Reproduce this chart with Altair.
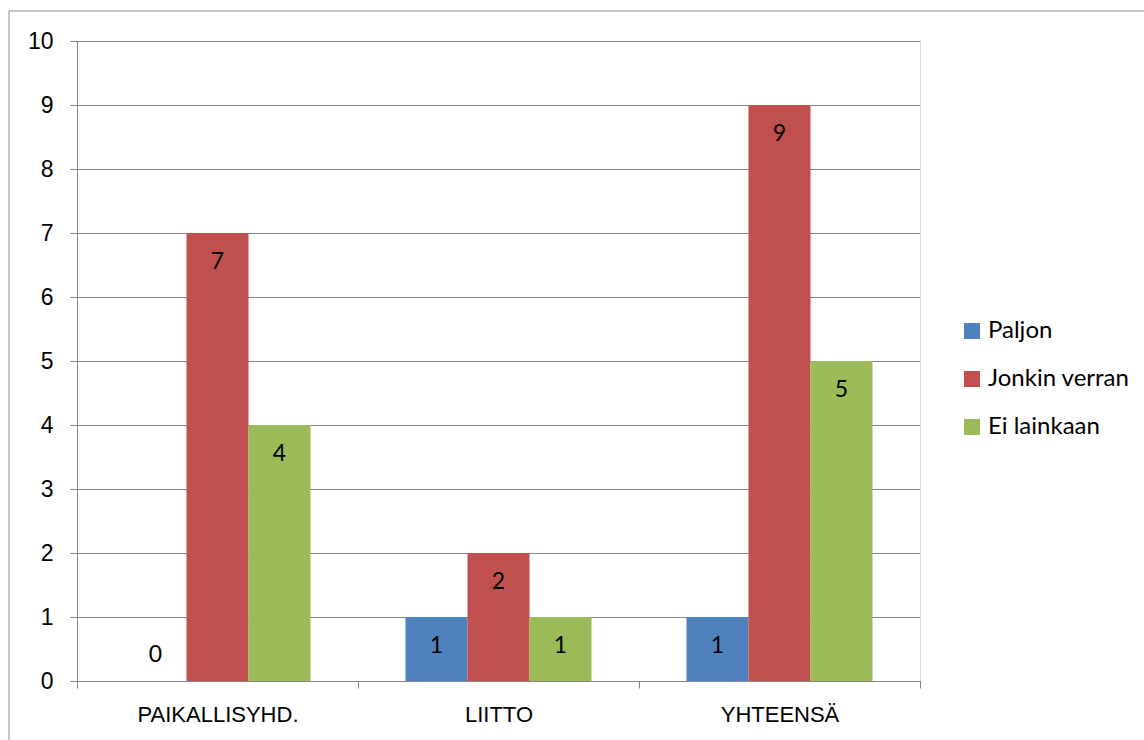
import altair as alt
import pandas as pd

# Survey answers per group
categories = ["PAIKALLISYHD.", "LIITTO", "YHTEENSÄ"]
series = ["Paljon", "Jonkin verran", "Ei lainkaan"]
paljon = [0, 1, 1]
jonkin_verran = [7, 2, 9]
ei_lainkaan = [4, 1, 5]
colors = ["#4F81BD", "#C0504D", "#9BBB59"]
y_ticks = list(range(0, 11))

rows = []
for name, vals in zip(series, [paljon, jonkin_verran, ei_lainkaan]):
    for cat, v in zip(categories, vals):
        rows.append({"ryhma": cat, "sarja": name, "arvo": v})
df = pd.DataFrame(rows)

FONT = "Lato"
FS = 22
FS_NUM = 23
FS_LEG = 24
GRID = "#868686"

x_enc = alt.X(
    "ryhma:N",
    sort=categories,
    scale=alt.Scale(paddingInner=0, paddingOuter=0),
    axis=alt.Axis(
        title=None,
        labelAngle=0,
        labelFontSize=FS,
        labelColor="#000000",
        labelPadding=16,
        domainColor=GRID,
        tickColor=GRID,
        tickSize=7,
        tickBand="extent",
        grid=False,
    ),
)
xoff_enc = alt.XOffset(
    "sarja:N",
    sort=series,
    scale=alt.Scale(paddingInner=0, paddingOuter=0.766),
)
y_enc = alt.Y(
    "arvo:Q",
    scale=alt.Scale(domain=[0, 10], nice=False),
    axis=alt.Axis(
        title=None,
        values=y_ticks,
        labelFontSize=FS_NUM,
        labelColor="#000000",
        labelPadding=17,
        domainColor=GRID,
        tickColor=GRID,
        tickSize=7,
        gridColor=GRID,
        gridWidth=1,
    ),
)

base = alt.Chart(df)

# thin frame around the whole chart
frame = alt.Chart(pd.DataFrame({"k": [0]})).mark_rect(
    fill="transparent", stroke="#8C8C8C", strokeWidth=1
).encode(
    x=alt.value(-68), x2=alt.value(1075), y=alt.value(-30), y2=alt.value(705)
)

bars = base.mark_bar(size=62).encode(
    x=x_enc,
    xOffset=xoff_enc,
    y=y_enc,
    color=alt.Color(
        "sarja:N",
        sort=series,
        scale=alt.Scale(domain=series, range=colors),
        legend=alt.Legend(
            title=None,
            orient="none",
            legendX=883,
            legendY=278,
            symbolType="square",
            symbolSize=256,
            symbolStrokeWidth=0,
            symbolOpacity=1,
            labelFontSize=FS_LEG,
            labelColor="#000000",
            labelFont=FONT,
            rowPadding=24,
            labelOffset=4,
        ),
    ),
)

labels_in = base.transform_filter("datum.arvo > 0").mark_text(
    baseline="middle", dy=29, fontSize=FS_NUM, font=FONT, color="#000000"
).encode(x=x_enc, xOffset=xoff_enc, y=y_enc, text="arvo:Q")

labels_zero = base.transform_filter("datum.arvo == 0").mark_text(
    baseline="middle", dy=-26, fontSize=FS_NUM, font=FONT, color="#000000"
).encode(x=x_enc, xOffset=xoff_enc, y=y_enc, text="arvo:Q")

chart = (
    alt.layer(frame, bars, labels_in, labels_zero)
    .properties(
        width=843,
        height=640,
        autosize=alt.AutoSizeParams(type="none"),
        padding={"left": 77, "top": 41, "right": 224, "bottom": 59},
    )
    .configure_view(stroke=None)
    .configure_axis(labelFont=FONT)
    .configure(background="#FFFFFF")
)

chart.save("out.html", embed_options={"renderer": "svg", "actions": False})
